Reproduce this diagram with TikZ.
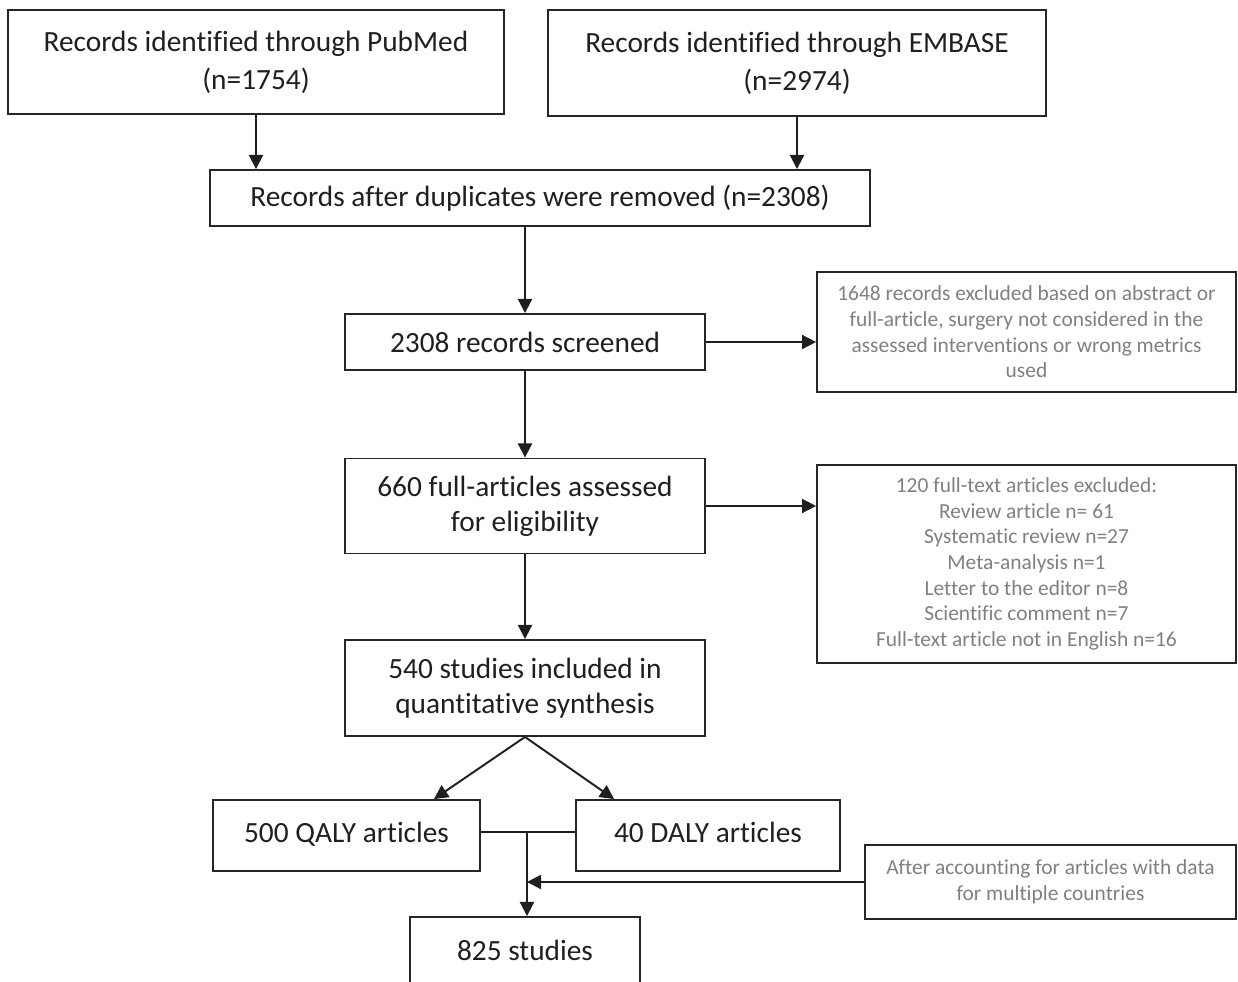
\documentclass[tikz,border=0pt]{standalone}
\usepackage{fontspec}
\setmainfont{Carlito}[Ligatures=NoCommon]
\usetikzlibrary{arrows.meta}
\begin{document}
\begin{tikzpicture}[x=0.02cm,y=-0.02cm,
  box/.style={draw=black!85,line width=1.1pt,align=center,text=black!88,inner sep=0pt,
    font=\fontsize{16.7}{20}\selectfont},
  note/.style={box,text=black!50,font=\fontsize{12.2}{14.6}\selectfont},
  pair/.style={box,text height=11.5pt,text depth=3.5pt},
  arr/.style={draw=black!88,line width=1.1pt,-{Triangle[length=8pt,width=8pt]}}]
  \useasboundingbox (0,0) rectangle (1238,981);

  % Fuentes de registros
  \node[box,minimum width=9.92cm,minimum height=2.08cm,font=\fontsize{16.7}{21.5}\selectfont] (pubmed) at (256,62)
    {Records identified through PubMed\\(n=1754)};
  \node[box,minimum width=9.96cm,minimum height=2.12cm,font=\fontsize{16.7}{21.5}\selectfont] (embase) at (797,63)
    {Records identified through EMBASE\\(n=2974)};

  % Cadena principal
  \node[box,minimum width=13.2cm,minimum height=1.12cm] (dupl) at (540,198)
    {Records after duplicates were removed (n=2308)};
  \node[box,minimum width=7.2cm,minimum height=1.12cm] (screen) at (525,342)
    {2308 records screened};
  \node[box,minimum width=7.2cm,minimum height=1.9cm] (assess) at (525,506)
    {660 full-articles assessed\\for eligibility};
  \node[box,minimum width=7.2cm,minimum height=1.92cm] (incl) at (525,688)
    {540 studies included in\\quantitative synthesis};
  \node[pair,minimum width=5.34cm,minimum height=1.42cm] (qaly) at (346.5,835.5)
    {500 QALY articles};
  \node[pair,minimum width=5.28cm,minimum height=1.42cm] (daly) at (708,835.5)
    {40 DALY articles};
  \node[box,minimum width=4.6cm,minimum height=1.32cm] (final) at (525,950)
    {825 studies};

  % Cajas de exclusión
  \node[note,minimum width=8.38cm,minimum height=2.4cm] (excla) at (1026.5,332)
    {1648 records excluded based on abstract or\\full-article, surgery not considered in the\\assessed interventions or wrong metrics\\used};
  \node[note,minimum width=8.38cm,minimum height=3.96cm] (exclb) at (1026.5,564)
    {120 full-text articles excluded:\\Review article n= 61\\Systematic review n=27\\Meta-analysis n=1\\Letter to the editor n=8\\Scientific comment n=7\\Full-text article not in English n=16};
  \node[note,minimum width=7.42cm,minimum height=1.48cm] (exclc) at (1050.5,882)
    {After accounting for articles with data\\for multiple countries};

  % Flechas
  \draw[arr] (pubmed.south) -- (pubmed.south |- dupl.north);
  \draw[arr] (embase.south) -- (embase.south |- dupl.north);
  \draw[arr] (screen.north |- dupl.south) -- (screen.north);
  \foreach \from/\to in {screen/assess, assess/incl}
    \draw[arr] (\from.south) -- (\to.north);
  \foreach \from/\to in {screen/excla, assess/exclb}
    \draw[arr] (\from.east) -- (\from.east -| \to.west);
  \draw[arr] (incl.south) -- ([xshift=1.75cm]qaly.north);
  \draw[arr] (incl.south) -- ([xshift=-1.88cm]daly.north);

  % Unión QALY / DALY
  \coordinate (join) at (527,832);
  \draw[draw=black!88,line width=1.1pt] (qaly.east |- join) -- (daly.west |- join);
  \draw[arr] (join) -- (join |- final.north);
  \draw[arr] (exclc.west) -- (exclc.west -| join);
\end{tikzpicture}
\end{document}
